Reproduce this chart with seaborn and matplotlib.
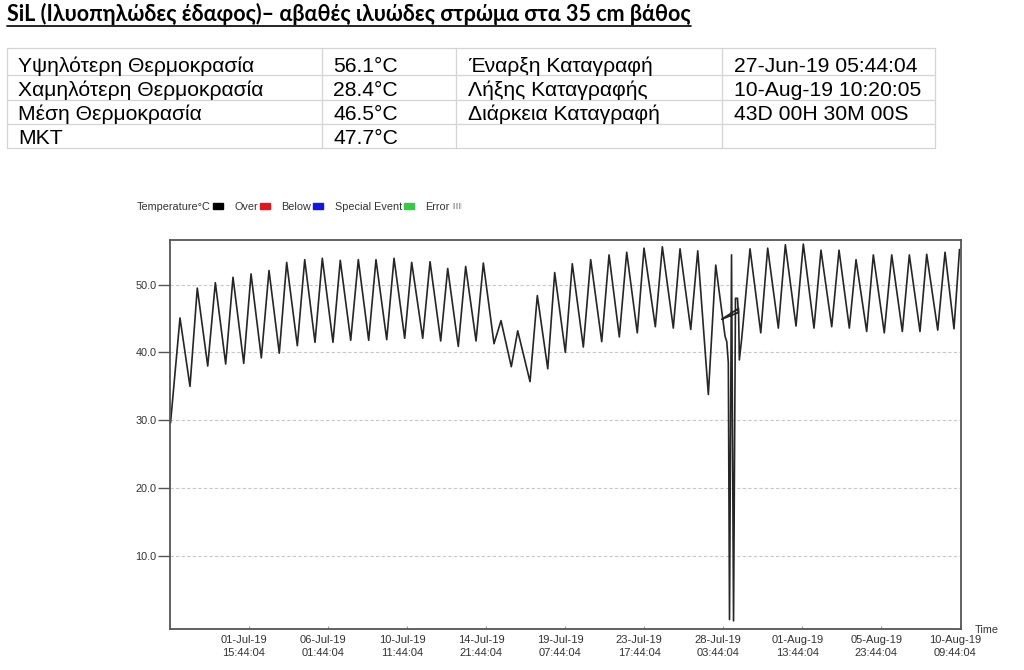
import matplotlib
matplotlib.use("Agg")
import matplotlib.pyplot as plt
import matplotlib.transforms as mtransforms
import seaborn as sns
import pandas as pd
from matplotlib.patches import Patch
from matplotlib.lines import Line2D

# ---------------- data ----------------
title_text = "SiL (Ιλυοπηλώδες έδαφος)– αβαθές ιλυώδες στρώμα στα 35 cm βάθος"

table_labels_left = ["Υψηλότερη Θερμοκρασία", "Χαμηλότερη Θερμοκρασία", "Μέση Θερμοκρασία", "MKT"]
table_values_left = ["56.1°C", "28.4°C", "46.5°C", "47.7°C"]
table_labels_right = ["Έναρξη Καταγραφή", "Λήξης Καταγραφής", "Διάρκεια Καταγραφή", ""]
table_values_right = ["27-Jun-19 05:44:04", "10-Aug-19 10:20:05", "43D 00H 30M 00S", ""]

log_start = "2019-06-27 05:44:04"
log_end = "2019-08-10 10:20:05"

elapsed_hours = [0.7, 13.4, 26.8, 36.6, 50.6, 60.8, 74.7, 84.5, 98.9, 108.7, 122.5,
                 132.8, 146.6, 156.5, 170.8, 180.7, 194.5, 204.3, 218.6, 228.4, 242.4,
                 252.6, 266.5, 276.3, 290.7, 300.5, 314.8, 324.2, 339.0, 348.8, 363.1,
                 372.5, 386.7, 396.6, 410.5, 420.3, 434.6, 444.0, 457.8, 466.4, 482.9,
                 492.7, 506.7, 516.0, 530.3, 539.6, 554.4, 564.3, 579.1, 588.9, 602.7,
                 612.6, 626.8, 635.8, 651.0, 660.4, 675.1, 684.1, 698.5, 707.9, 722.1,
                 732.0, 744.5, 746.8, 748.9, 750.5, 753.2, 755.9, 758.5, 761.2, 762.3,
                 740.0, 762.6, 763.7, 766.9, 778.0, 792.4, 801.7, 816.0, 825.4, 839.7,
                 849.5, 863.8, 873.2, 887.6, 897.4, 911.2, 920.2, 934.5, 943.4, 958.1,
                 968.1, 982.3, 991.7, 1006.0, 1015.0, 1029.8, 1039.6, 1051.6, 1059.0]
temperature_c = [29.6, 45.1, 35.0, 49.5, 38.0, 50.3, 38.3, 51.1, 38.4, 51.6, 39.2,
                 52.1, 39.9, 53.3, 41.0, 53.7, 41.5, 53.9, 41.5, 53.6, 41.8,
                 53.7, 41.8, 53.7, 41.9, 53.9, 42.1, 53.3, 42.1, 53.4, 41.7,
                 52.4, 40.9, 52.7, 41.7, 53.2, 41.3, 44.7, 37.9, 43.2, 35.7,
                 48.4, 37.6, 51.8, 40.0, 53.1, 40.8, 53.7, 41.6, 54.4, 42.3,
                 54.8, 42.9, 55.4, 43.8, 55.6, 43.6, 55.3, 43.4, 55.0, 33.8,
                 52.9, 42.4, 41.6, 38.5, 0.6, 54.4, 0.4, 48.0, 48.0, 45.9,
                 44.9, 46.5, 38.9, 42.1, 55.3, 42.9, 55.4, 43.6, 55.9, 43.9,
                 56.0, 43.6, 55.1, 43.8, 55.1, 43.6, 53.7, 43.1, 54.4, 42.9,
                 54.4, 43.1, 54.4, 43.1, 54.5, 43.3, 54.8, 43.5, 55.2]

x_tick_times = ["2019-07-01 15:44:04", "2019-07-06 01:44:04", "2019-07-10 11:44:04",
                "2019-07-14 21:44:04", "2019-07-19 07:44:04", "2019-07-23 17:44:04",
                "2019-07-28 03:44:04", "2019-08-01 13:44:04", "2019-08-05 23:44:04",
                "2019-08-10 09:44:04"]
y_ticks = [10, 20, 30, 40, 50]

legend_labels = ["Temperature°C", "Over", "Below", "Special Event", "Error"]
legend_colors = ["#000000", "#e8141c", "#1414e6", "#33cc44", "#ffffff"]

# ---------------- figure ----------------
sns.set_style("white")
plt.rcParams["font.family"] = ["Liberation Sans", "DejaVu Sans"]
plt.rcParams["hatch.linewidth"] = 1.0

W, H = 1024, 670
fig = plt.figure(figsize=(W / 100, H / 100), dpi=100)


def fx(px):
    return px / W


def fy(py):
    return 1 - py / H


# title
t = fig.text(fx(7), fy(21), title_text, fontsize=15.5, fontweight="bold",
             family=["Lato", "DejaVu Sans"], ha="left", va="baseline", color="black")
fig.canvas.draw()
bb = t.get_window_extent(fig.canvas.get_renderer())
fig.add_artist(Line2D([bb.x0 / W, bb.x1 / W], [fy(25.5), fy(25.5)], transform=fig.transFigure,
                      color="black", lw=1.2))

# table grid
col_x = [7, 322, 456, 722, 935]
row_y = [48, 75, 100, 124, 148]
grid_c = "#d4d4d4"
for yy in row_y:
    fig.add_artist(Line2D([fx(col_x[0]), fx(col_x[-1])], [fy(yy), fy(yy)],
                          transform=fig.transFigure, color=grid_c, lw=0.9))
for xx in col_x:
    fig.add_artist(Line2D([fx(xx), fx(xx)], [fy(row_y[0]), fy(row_y[-1])],
                          transform=fig.transFigure, color=grid_c, lw=0.9))
baselines = [71.5, 96.5, 119.5, 143.5]
text_x = [18, 333, 468, 734]
cols = [table_labels_left, table_values_left, table_labels_right, table_values_right]
for ci, col in enumerate(cols):
    for ri, s in enumerate(col):
        if s:
            fig.text(fx(text_x[ci]), fy(baselines[ri]), s, fontsize=15.2, ha="left",
                     va="baseline", color="black")

# chart
ax = fig.add_axes([fx(170), fy(629), fx(960.7) - fx(170), fy(240) - fy(629)])
t0 = pd.Timestamp(log_start)
times = [t0 + pd.Timedelta(hours=h) for h in elapsed_hours]
df = pd.DataFrame({"time": times, "temp": temperature_c})
sns.lineplot(data=df, x="time", y="temp", sort=False, estimator=None, ax=ax,
             color="#262626", lw=1.2)
for ln in ax.get_lines():
    ln.set_solid_joinstyle("round")

ax.set_xlim(t0, pd.Timestamp(log_end))
ax.set_ylim(-0.8, 56.6)
ax.set_yticks(y_ticks)
ax.set_yticklabels([f"{v:.1f}" for v in y_ticks])
xt = [pd.Timestamp(s) for s in x_tick_times]
ax.set_xticks(xt)
ax.set_xticklabels([d.strftime("%d-%b-%y") + "\n" + d.strftime("%H:%M:%S") for d in xt])
ax.set_xlabel("")
ax.set_ylabel("")
ax.grid(axis="y", color="#c8c8c8", ls=(0, (3, 2)), lw=0.8)
ax.grid(axis="x", visible=False)
for sp in ax.spines.values():
    sp.set_color("#555555")
    sp.set_linewidth(1.3)
ax.tick_params(axis="y", length=9, width=1.0, color="#555555", labelsize=7.8,
               labelcolor="#333333", pad=0.8, left=True)
ax.tick_params(axis="x", length=2, width=0.8, color="#999999", labelsize=8,
               labelcolor="#333333", pad=4, bottom=True, direction="in")
shift = mtransforms.ScaledTranslation(-5 / 100, 0, fig.dpi_scale_trans)
for lab in ax.get_xticklabels():
    lab.set_linespacing(1.45)
    lab.set_transform(lab.get_transform() + shift)

fig.text(fx(975), fy(633), "Time", fontsize=7.8, color="#333333", ha="left", va="baseline")

# legend
handles = []
for lbl, c in zip(legend_labels, legend_colors):
    if lbl == "Error":
        handles.append(Patch(facecolor="white", edgecolor="#a0a0a0", hatch="||||||", lw=0))
    else:
        handles.append(Patch(facecolor=c, edgecolor=c))
leg = fig.legend(handles, legend_labels, loc="center left",
                 bbox_to_anchor=(fx(137), fy(207)), ncol=5, frameon=False,
                 markerfirst=False, fontsize=7.8, handlelength=0.92, handleheight=0.42,
                 handletextpad=0.2, columnspacing=1.05, borderpad=0, borderaxespad=0)
for txt in leg.get_texts():
    txt.set_color("#333333")

fig.savefig("out.png", dpi=100)
